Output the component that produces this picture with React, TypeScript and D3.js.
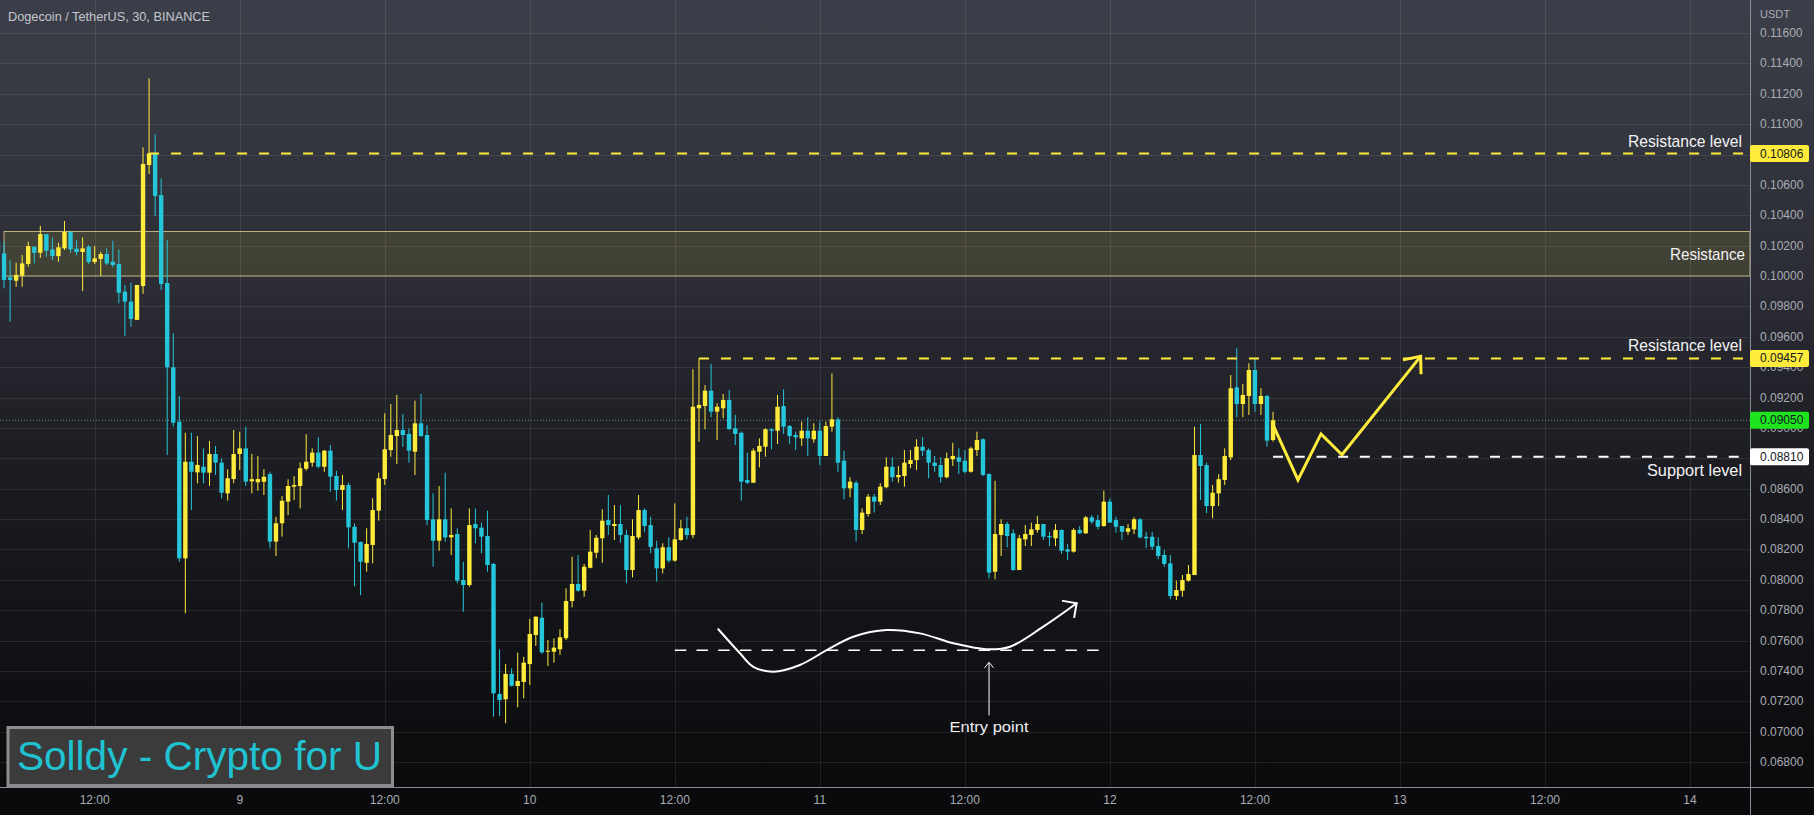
import React from "react";
import * as d3 from "d3";

// DOGE/USDT 30-minute candles, first candle = day 8, 04:00 (hours counted from day 8 00:00)
const firstCandleHour = 4;
const candleStepHours = 0.5;

const openP = [
  0.10226, 0.10149, 0.09991, 0.09969, 0.10002, 0.10079, 0.10193, 0.10153, 0.10276, 0.10175,
  0.10131, 0.10182, 0.10291, 0.10180, 0.10158, 0.10193, 0.10092, 0.10112, 0.10145, 0.10094,
  0.10079, 0.09897, 0.09831, 0.09711, 0.09934, 0.10731, 0.10808, 0.10533, 0.09954, 0.09399,
  0.09041, 0.08141, 0.08777, 0.08707, 0.08744, 0.08705, 0.08828, 0.08771, 0.08569, 0.08663,
  0.08828, 0.08865, 0.08648, 0.08642, 0.08645, 0.08696, 0.08251, 0.08372, 0.08514, 0.08613,
  0.08617, 0.08731, 0.08771, 0.08837, 0.08744, 0.08850, 0.08683, 0.08591, 0.08624, 0.08349,
  0.08249, 0.08112, 0.08229, 0.08455, 0.08663, 0.08854, 0.08946, 0.08986, 0.08960, 0.08843,
  0.09030, 0.08953, 0.08398, 0.08257, 0.08398, 0.08279, 0.08301, 0.07998, 0.07965, 0.08367,
  0.08343, 0.08288, 0.08104, 0.07248, 0.07213, 0.07380, 0.07300, 0.07327, 0.07445, 0.07636,
  0.07750, 0.07526, 0.07526, 0.07542, 0.07615, 0.07860, 0.07972, 0.07928, 0.08079, 0.08178,
  0.08273, 0.08393, 0.08354, 0.08367, 0.08295, 0.08064, 0.08279, 0.08459, 0.08360, 0.08207,
  0.08075, 0.08214, 0.08126, 0.08262, 0.08339, 0.08295, 0.09129, 0.09144, 0.09245, 0.09107,
  0.09129, 0.09184, 0.08997, 0.08968, 0.08657, 0.08639, 0.08843, 0.08876, 0.08991, 0.08981,
  0.09144, 0.09012, 0.08953, 0.08931, 0.08981, 0.08925, 0.08981, 0.08815, 0.09008, 0.09056,
  0.08784, 0.08602, 0.08639, 0.08328, 0.08433, 0.08547, 0.08514, 0.08609, 0.08744, 0.08675,
  0.08683, 0.08762, 0.08788, 0.08876, 0.08854, 0.08771, 0.08755, 0.08675, 0.08793, 0.08806,
  0.08784, 0.08711, 0.08854, 0.08925, 0.08696, 0.08053, 0.08295, 0.08367, 0.08306, 0.08064,
  0.08266, 0.08295, 0.08328, 0.08367, 0.08288, 0.08273, 0.08328, 0.08200, 0.08185, 0.08328,
  0.08306, 0.08411, 0.08393, 0.08354, 0.08514, 0.08393, 0.08354, 0.08316, 0.08332, 0.08398,
  0.08283, 0.08283, 0.08222, 0.08163, 0.08108, 0.07893, 0.07928, 0.07994, 0.08031, 0.08821,
  0.08755, 0.08485, 0.08569, 0.08657, 0.08806, 0.09267, 0.09157, 0.09210, 0.09381, 0.09157,
  0.09210, 0.08920,
];

const highP = [
  0.10237, 0.10226, 0.10105, 0.10087, 0.10138, 0.10226, 0.10193, 0.10330, 0.10276, 0.10254,
  0.10219, 0.10362, 0.10291, 0.10237, 0.10254, 0.10204, 0.10197, 0.10160, 0.10182, 0.10232,
  0.10175, 0.09941, 0.09956, 0.09941, 0.10847, 0.11302, 0.10935, 0.10643, 0.10237, 0.09623,
  0.09210, 0.08968, 0.08968, 0.08946, 0.08865, 0.08914, 0.08881, 0.08799, 0.08727, 0.08986,
  0.08975, 0.09008, 0.08828, 0.08815, 0.08728, 0.08712, 0.08415, 0.08551, 0.08661, 0.08683,
  0.08771, 0.08958, 0.08865, 0.08938, 0.08854, 0.08887, 0.08718, 0.08690, 0.08639, 0.08372,
  0.08251, 0.08339, 0.08536, 0.08705, 0.09096, 0.09157, 0.09217, 0.09091, 0.08997, 0.09179,
  0.09223, 0.09019, 0.08569, 0.08617, 0.08705, 0.08470, 0.08339, 0.08119, 0.08470, 0.08470,
  0.08376, 0.08455, 0.08112, 0.07542, 0.07445, 0.07417, 0.07520, 0.07493, 0.07742, 0.07757,
  0.07849, 0.07603, 0.07614, 0.07674, 0.07944, 0.08152, 0.08163, 0.08104, 0.08328, 0.08295,
  0.08464, 0.08558, 0.08492, 0.08492, 0.08328, 0.08398, 0.08558, 0.08470, 0.08415, 0.08257,
  0.08240, 0.08279, 0.08503, 0.08393, 0.08415, 0.09386, 0.09457, 0.09282, 0.09421, 0.09162,
  0.09223, 0.09250, 0.09085, 0.08975, 0.08837, 0.08865, 0.08931, 0.08997, 0.08997, 0.09217,
  0.09254, 0.09019, 0.08975, 0.09041, 0.09070, 0.09030, 0.09041, 0.09041, 0.09359, 0.09070,
  0.08850, 0.08675, 0.08652, 0.08470, 0.08565, 0.08565, 0.08635, 0.08806, 0.08806, 0.08749,
  0.08854, 0.08854, 0.08925, 0.08938, 0.08865, 0.08815, 0.08806, 0.08837, 0.08902, 0.08865,
  0.08854, 0.08876, 0.08975, 0.08931, 0.08701, 0.08652, 0.08398, 0.08382, 0.08332, 0.08295,
  0.08360, 0.08376, 0.08420, 0.08367, 0.08316, 0.08367, 0.08332, 0.08235, 0.08339, 0.08354,
  0.08420, 0.08426, 0.08426, 0.08587, 0.08536, 0.08415, 0.08354, 0.08367, 0.08411, 0.08405,
  0.08316, 0.08316, 0.08279, 0.08196, 0.08163, 0.07994, 0.08031, 0.08097, 0.09008, 0.09026,
  0.08771, 0.08624, 0.08696, 0.08865, 0.09348, 0.09524, 0.09289, 0.09425, 0.09458, 0.09261,
  0.09217, 0.09106,
];

const lowP = [
  0.10138, 0.09919, 0.09699, 0.09929, 0.09929, 0.10061, 0.10083, 0.10119, 0.10127, 0.10105,
  0.10094, 0.10171, 0.10153, 0.10136, 0.09901, 0.10079, 0.10079, 0.10000, 0.10072, 0.10057,
  0.09820, 0.09605, 0.09666, 0.09711, 0.09882, 0.10672, 0.10395, 0.09908, 0.08821, 0.09008,
  0.08119, 0.07779, 0.08459, 0.08635, 0.08635, 0.08617, 0.08690, 0.08536, 0.08521, 0.08635,
  0.08723, 0.08617, 0.08569, 0.08586, 0.08558, 0.08207, 0.08156, 0.08284, 0.08426, 0.08525,
  0.08470, 0.08718, 0.08744, 0.08734, 0.08711, 0.08580, 0.08521, 0.08459, 0.08207, 0.07957,
  0.07899, 0.08053, 0.08108, 0.08389, 0.08624, 0.08810, 0.08762, 0.08876, 0.08771, 0.08690,
  0.08942, 0.08360, 0.08086, 0.08191, 0.08251, 0.08163, 0.07977, 0.07789, 0.07954, 0.08240,
  0.08174, 0.08053, 0.07098, 0.07103, 0.07055, 0.07296, 0.07160, 0.07219, 0.07307, 0.07564,
  0.07511, 0.07432, 0.07454, 0.07505, 0.07603, 0.07818, 0.07921, 0.07888, 0.08075, 0.08141,
  0.08112, 0.08295, 0.08262, 0.08244, 0.07977, 0.08016, 0.08266, 0.08316, 0.08174, 0.07987,
  0.08042, 0.08112, 0.08119, 0.08257, 0.08266, 0.08273, 0.08909, 0.08991, 0.09070, 0.08920,
  0.09063, 0.08986, 0.08887, 0.08521, 0.08630, 0.08639, 0.08740, 0.08810, 0.08859, 0.08894,
  0.08960, 0.08894, 0.08854, 0.08881, 0.08815, 0.08902, 0.08755, 0.08815, 0.08975, 0.08711,
  0.08530, 0.08543, 0.08251, 0.08301, 0.08415, 0.08442, 0.08492, 0.08602, 0.08646, 0.08639,
  0.08613, 0.08734, 0.08723, 0.08815, 0.08668, 0.08711, 0.08639, 0.08668, 0.08749, 0.08696,
  0.08701, 0.08705, 0.08815, 0.08683, 0.08009, 0.08003, 0.08156, 0.08214, 0.08060, 0.08064,
  0.08222, 0.08222, 0.08310, 0.08262, 0.08222, 0.08222, 0.08170, 0.08130, 0.08178, 0.08301,
  0.08301, 0.08367, 0.08332, 0.08349, 0.08376, 0.08310, 0.08262, 0.08295, 0.08301, 0.08273,
  0.08207, 0.08196, 0.08135, 0.08086, 0.07871, 0.07867, 0.07888, 0.07987, 0.08031, 0.08525,
  0.08438, 0.08405, 0.08485, 0.08624, 0.08788, 0.09070, 0.09070, 0.09085, 0.09106, 0.09085,
  0.08876, 0.08909,
];

const closeP = [
  0.10153, 0.09974, 0.09974, 0.10007, 0.10083, 0.10197, 0.10153, 0.10276, 0.10166, 0.10131,
  0.10189, 0.10291, 0.10175, 0.10158, 0.10182, 0.10092, 0.10116, 0.10145, 0.10083, 0.10072,
  0.09890, 0.09831, 0.09717, 0.09941, 0.10738, 0.10808, 0.10527, 0.09947, 0.09399, 0.09034,
  0.08141, 0.08777, 0.08711, 0.08756, 0.08705, 0.08828, 0.08771, 0.08573, 0.08668, 0.08828,
  0.08865, 0.08646, 0.08662, 0.08663, 0.08678, 0.08251, 0.08372, 0.08520, 0.08617, 0.08624,
  0.08734, 0.08777, 0.08837, 0.08744, 0.08850, 0.08679, 0.08591, 0.08624, 0.08345, 0.08244,
  0.08119, 0.08236, 0.08459, 0.08668, 0.08859, 0.08953, 0.08986, 0.08953, 0.08850, 0.09030,
  0.08946, 0.08393, 0.08257, 0.08398, 0.08279, 0.08295, 0.07994, 0.07965, 0.08360, 0.08339,
  0.08284, 0.08097, 0.07252, 0.07208, 0.07380, 0.07302, 0.07333, 0.07454, 0.07643, 0.07757,
  0.07522, 0.07533, 0.07553, 0.07621, 0.07860, 0.07972, 0.07928, 0.08086, 0.08185, 0.08277,
  0.08389, 0.08360, 0.08367, 0.08295, 0.08064, 0.08288, 0.08459, 0.08354, 0.08217, 0.08075,
  0.08214, 0.08126, 0.08266, 0.08339, 0.08295, 0.09139, 0.09151, 0.09245, 0.09107, 0.09139,
  0.09184, 0.08992, 0.08960, 0.08646, 0.08639, 0.08850, 0.08881, 0.08991, 0.08981, 0.09139,
  0.09008, 0.08946, 0.08938, 0.08981, 0.08931, 0.08981, 0.08815, 0.09012, 0.09056, 0.08771,
  0.08602, 0.08646, 0.08328, 0.08442, 0.08547, 0.08514, 0.08613, 0.08744, 0.08675, 0.08690,
  0.08771, 0.08788, 0.08876, 0.08850, 0.08771, 0.08749, 0.08675, 0.08800, 0.08815, 0.08777,
  0.08711, 0.08865, 0.08920, 0.08690, 0.08047, 0.08301, 0.08367, 0.08288, 0.08064, 0.08273,
  0.08301, 0.08332, 0.08367, 0.08284, 0.08279, 0.08328, 0.08191, 0.08185, 0.08328, 0.08306,
  0.08411, 0.08382, 0.08349, 0.08514, 0.08376, 0.08349, 0.08316, 0.08339, 0.08398, 0.08279,
  0.08273, 0.08218, 0.08156, 0.08104, 0.07893, 0.07932, 0.07998, 0.08038, 0.08821, 0.08749,
  0.08485, 0.08573, 0.08662, 0.08815, 0.09261, 0.09157, 0.09217, 0.09381, 0.09157, 0.09210,
  0.08916, 0.09050,
];

const priceTicks = [
  0.116, 0.114, 0.112, 0.11, 0.108, 0.106, 0.104, 0.102, 0.1, 0.098, 0.096, 0.094, 0.092,
  0.09, 0.088, 0.086, 0.084, 0.082, 0.08, 0.078, 0.076, 0.074, 0.072, 0.07, 0.068,
];
const timeTickHours = [12, 24, 36, 48, 60, 72, 84, 96, 108, 120, 132, 144];
const timeTickLabels = ["12:00", "9", "12:00", "10", "12:00", "11", "12:00", "12", "12:00", "13", "12:00", "14"];

// levels drawn on the chart
const resistanceHigh = 0.10806;
const resistanceHighStartHour = 16.5;
const resistanceLow = 0.09457;
const resistanceLowStartHour = 62;
const supportLevel = 0.0881;
const supportStartHour = 109.5;
const lastPrice = 0.0905;
const zoneTop = 0.10293;
const zoneBottom = 0.1;
const zoneStartHour = 4.5;
const entryLevel = 0.07535;
const entryLineHours = [60.0, 95.4];
const entryPointHour = 86.0;

// hand-drawn path: hours / prices
const entryCurveHours = [63.6, 65.39, 66.49, 68.15, 70.36, 72.57, 74.77, 77.53, 80.29, 83.04, 85.94, 87.74, 90.49, 93.25];
const entryCurvePrices = [0.07674, 0.07516, 0.07427, 0.07395, 0.07439, 0.07537, 0.07625, 0.07669, 0.07647, 0.07582, 0.07542, 0.07559, 0.07691, 0.07845];

const forecastHours = [109.5, 111.56, 113.47, 115.2, 121.71];
const forecastPrices = [0.0902, 0.08657, 0.0896, 0.08823, 0.09471];

const YELLOW = "#ffeb3b";
const BLUE = "#26c6da";
const FONT = "'Liberation Sans', Arial, sans-serif";

export default function App() {
  const W = 1814;
  const H = 815;
  const plotRight = 1750;
  const plotBottom = 787;

  const x = d3.scaleLinear().domain([12, 144]).range([94.7, 1690]);
  const y = d3.scaleLinear().domain([0.068, 0.116]).range([762, 33]);

  const candles = openP.map((o, i) => ({
    t: firstCandleHour + i * candleStepHours,
    o,
    h: highP[i],
    l: lowP[i],
    c: closeP[i],
  }));
  const bodyW = 4.4;

  const curveLine = d3
    .line<[number, number]>()
    .x((d) => x(d[0]))
    .y((d) => y(d[1]))
    .curve(d3.curveCatmullRom.alpha(0.5));
  const entryPath = curveLine(entryCurveHours.map((h, i) => [h, entryCurvePrices[i]] as [number, number])) || "";

  const zigLine = d3
    .line<[number, number]>()
    .x((d) => x(d[0]))
    .y((d) => y(d[1]));
  const forecastPath = zigLine(forecastHours.map((h, i) => [h, forecastPrices[i]] as [number, number])) || "";

  const arrowHead = (x1: number, y1: number, x2: number, y2: number, len: number, spread: number) => {
    const a = Math.atan2(y1 - y2, x1 - x2);
    const p1 = [x2 + len * Math.cos(a + spread), y2 + len * Math.sin(a + spread)];
    const p2 = [x2 + len * Math.cos(a - spread), y2 + len * Math.sin(a - spread)];
    return `M${p1[0]},${p1[1]}L${x2},${y2}L${p2[0]},${p2[1]}`;
  };

  const nE = entryCurveHours.length;
  const entryHead = arrowHead(
    x(entryCurveHours[nE - 2]),
    y(entryCurvePrices[nE - 2]),
    x(entryCurveHours[nE - 1]),
    y(entryCurvePrices[nE - 1]),
    14,
    Math.PI / 4
  );
  const nF = forecastHours.length;
  const forecastHead = arrowHead(
    x(forecastHours[nF - 2]),
    y(forecastPrices[nF - 2]),
    x(forecastHours[nF - 1]),
    y(forecastPrices[nF - 1]),
    18,
    Math.PI / 4.5
  );

  const fmt = d3.format(".5f");

  const axisLabel = (p: number, bg: string, fg: string) => (
    <g key={"lbl" + p}>
      <rect x={plotRight} y={y(p) - 8.5} width={59} height={17} rx={2} fill={bg} />
      <text x={plotRight + 10} y={y(p)} dominantBaseline="central" fontSize={12} fontFamily={FONT} fill={fg}>
        {fmt(p)}
      </text>
    </g>
  );

  const entryX = x(entryPointHour);

  return (
    <svg
      width={W}
      height={H}
      style={{ position: "absolute", left: 0, top: 0, display: "block" }}
      xmlns="http://www.w3.org/2000/svg"
    >
      <defs>
        <linearGradient id="bg" x1="0" y1="0" x2="0" y2="1">
          <stop offset="0" stopColor="#3c3f49" />
          <stop offset="0.35" stopColor="#2b2c34" />
          <stop offset="0.6" stopColor="#1a1b20" />
          <stop offset="1" stopColor="#09090b" />
        </linearGradient>
        <clipPath id="plot">
          <rect x={0} y={0} width={plotRight} height={plotBottom} />
        </clipPath>
      </defs>
      <rect x={0} y={0} width={W} height={H} fill="url(#bg)" />

      {/* grid */}
      <g stroke="rgba(255,255,255,0.085)" strokeWidth={1}>
        {priceTicks.map((p) => (
          <line key={"gh" + p} x1={0} x2={plotRight} y1={Math.round(y(p)) + 0.5} y2={Math.round(y(p)) + 0.5} />
        ))}
        {timeTickHours.map((h) => (
          <line key={"gv" + h} x1={Math.round(x(h)) + 0.5} x2={Math.round(x(h)) + 0.5} y1={0} y2={plotBottom} />
        ))}
      </g>

      <g clipPath="url(#plot)">
        {/* resistance zone */}
        <rect
          x={x(zoneStartHour)}
          y={y(zoneTop)}
          width={plotRight - x(zoneStartHour)}
          height={y(zoneBottom) - y(zoneTop)}
          fill="rgba(255,235,59,0.1)"
          stroke="#bdb27c"
          strokeWidth={1}
        />

        {/* last price dotted line */}
        <line
          x1={0}
          x2={plotRight}
          y1={y(lastPrice)}
          y2={y(lastPrice)}
          stroke="rgba(150,175,150,0.75)"
          strokeWidth={1}
          strokeDasharray="1 2"
        />

        {/* candles */}
        {candles.map((d, i) => {
          const up = d.c >= d.o;
          const col = up ? YELLOW : BLUE;
          const cx = x(d.t);
          const top = y(Math.max(d.o, d.c));
          const bot = y(Math.min(d.o, d.c));
          return (
            <g key={i}>
              <line x1={cx} x2={cx} y1={y(d.h)} y2={y(d.l)} stroke={col} strokeWidth={1} />
              <rect x={cx - bodyW / 2} y={top} width={bodyW} height={Math.max(1, bot - top)} fill={col} />
            </g>
          );
        })}

        {/* resistance / support lines */}
        <line
          x1={x(resistanceHighStartHour)}
          x2={plotRight}
          y1={y(resistanceHigh)}
          y2={y(resistanceHigh)}
          stroke={YELLOW}
          strokeWidth={2}
          strokeDasharray="10 12"
        />
        <line
          x1={x(resistanceLowStartHour)}
          x2={plotRight}
          y1={y(resistanceLow)}
          y2={y(resistanceLow)}
          stroke={YELLOW}
          strokeWidth={2}
          strokeDasharray="10 12"
        />
        <line
          x1={x(supportStartHour)}
          x2={plotRight}
          y1={y(supportLevel)}
          y2={y(supportLevel)}
          stroke="#ffffff"
          strokeWidth={2}
          strokeDasharray="10 11.7"
        />

        {/* entry annotation */}
        <line
          x1={x(entryLineHours[0])}
          x2={x(entryLineHours[1])}
          y1={y(entryLevel)}
          y2={y(entryLevel)}
          stroke="#ffffff"
          strokeWidth={1.5}
          strokeDasharray="11.5 10.2"
        />
        <path d={entryPath} fill="none" stroke="#ffffff" strokeWidth={2} strokeLinecap="round" />
        <path d={entryHead} fill="none" stroke="#ffffff" strokeWidth={2} strokeLinecap="round" />
        <line x1={entryX} x2={entryX} y1={y(entryLevel) + 12} y2={y(entryLevel) + 65} stroke="#ffffff" strokeWidth={1} />
        <path
          d={`M${entryX - 4.5},${y(entryLevel) + 17.5}L${entryX},${y(entryLevel) + 12}L${entryX + 4.5},${y(entryLevel) + 17.5}`}
          fill="none"
          stroke="#ffffff"
          strokeWidth={1}
        />
        <text x={entryX} y={y(entryLevel) + 82} textAnchor="middle" fontSize={15} fontFamily={FONT} fill="#f0f0f0" textLength={79} lengthAdjust="spacingAndGlyphs">
          Entry point
        </text>

        {/* forecast zigzag */}
        <path d={forecastPath} fill="none" stroke={YELLOW} strokeWidth={3} strokeLinejoin="miter" />
        <path d={forecastHead} fill="none" stroke={YELLOW} strokeWidth={3} />

        {/* level labels */}
        <text x={1742} y={y(resistanceHigh) - 7} textAnchor="end" fontSize={17} fontFamily={FONT} fill="#f2f2f2" textLength={114} lengthAdjust="spacingAndGlyphs">
          Resistance level
        </text>
        <text x={1745} y={(y(zoneTop) + y(zoneBottom)) / 2 + 6} textAnchor="end" fontSize={17} fontFamily={FONT} fill="#f2f2f2" textLength={75} lengthAdjust="spacingAndGlyphs">
          Resistance
        </text>
        <text x={1742} y={y(resistanceLow) - 7} textAnchor="end" fontSize={17} fontFamily={FONT} fill="#f2f2f2" textLength={114} lengthAdjust="spacingAndGlyphs">
          Resistance level
        </text>
        <text x={1742} y={y(supportLevel) + 19.5} textAnchor="end" fontSize={17} fontFamily={FONT} fill="#f2f2f2" textLength={95} lengthAdjust="spacingAndGlyphs">
          Support level
        </text>
      </g>

      {/* axes lines */}
      <line x1={plotRight + 0.5} x2={plotRight + 0.5} y1={0} y2={H} stroke="#8a8c93" strokeWidth={1} />
      <line x1={0} x2={W} y1={plotBottom + 0.5} y2={plotBottom + 0.5} stroke="#8a8c93" strokeWidth={1} />

      {/* price axis */}
      <text x={1760} y={14} dominantBaseline="central" fontSize={11} fontFamily={FONT} fill="#a9acb4">
        USDT
      </text>
      {priceTicks.map((p) => (
        <text key={"pt" + p} x={1760} y={y(p)} dominantBaseline="central" fontSize={12} fontFamily={FONT} fill="#a9acb4">
          {fmt(p)}
        </text>
      ))}
      {axisLabel(resistanceHigh, YELLOW, "#131722")}
      {axisLabel(resistanceLow, YELLOW, "#131722")}
      {axisLabel(lastPrice, "#1ee41e", "#131722")}
      {axisLabel(supportLevel, "#ffffff", "#131722")}

      {/* time axis */}
      {timeTickHours.map((h, i) => (
        <text key={"tt" + h} x={x(h)} y={800} textAnchor="middle" dominantBaseline="central" fontSize={12} fontFamily={FONT} fill="#a9acb4">
          {timeTickLabels[i]}
        </text>
      ))}

      {/* title */}
      <text x={8} y={16} dominantBaseline="central" fontSize={13} fontFamily={FONT} fill="#c3c6ce" textLength={202} lengthAdjust="spacingAndGlyphs">
        Dogecoin / TetherUS, 30, BINANCE
      </text>

      {/* watermark */}
      <rect x={8} y={727.5} width={384.5} height={58} fill="#3b3b3c" stroke="#8d8d8f" strokeWidth={3} />
      <text x={17} y={770} fontSize={41} fontFamily={FONT} fill="#1fc3d2" textLength={365} lengthAdjust="spacingAndGlyphs">
        Solldy - Crypto for U
      </text>
    </svg>
  );
}
